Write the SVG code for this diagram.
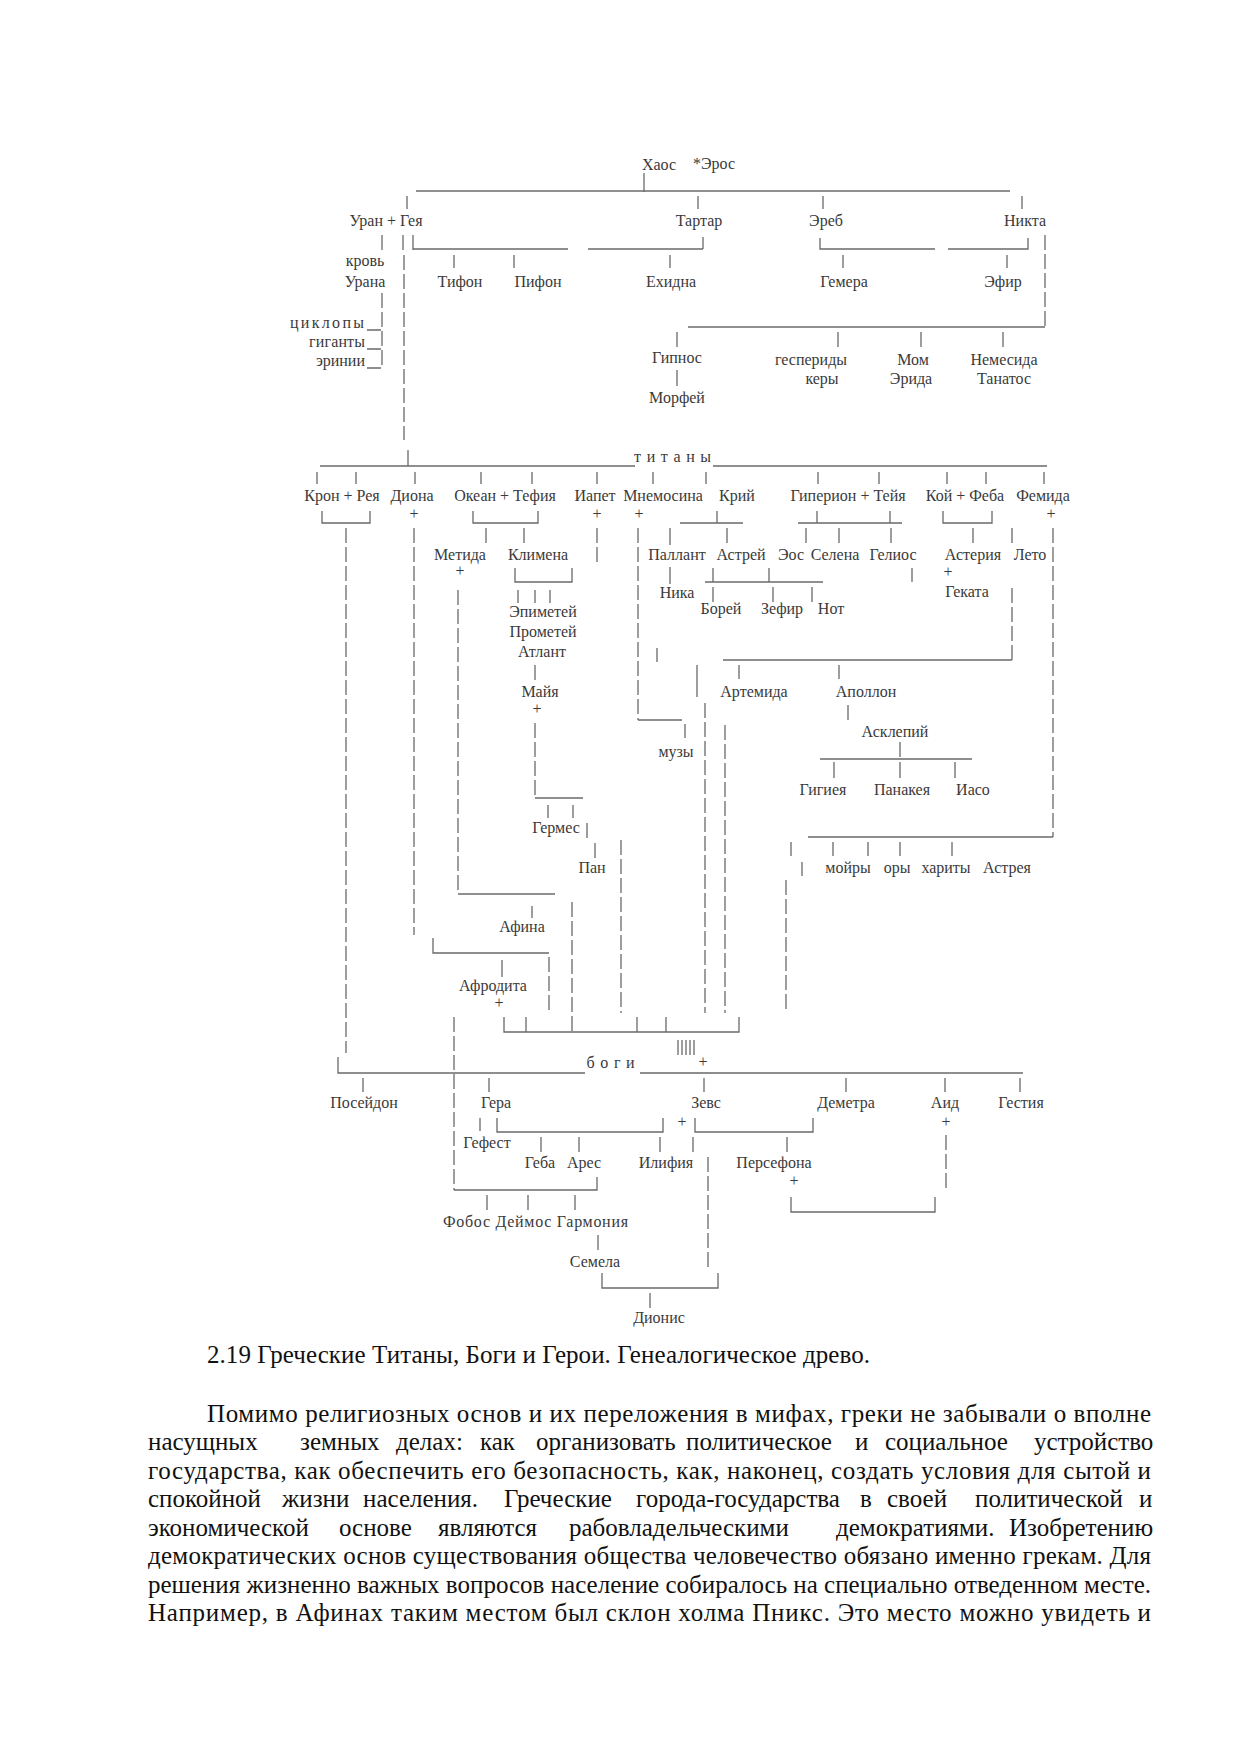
<svg xmlns="http://www.w3.org/2000/svg" width="1239" height="1754" viewBox="0 0 1239 1754">
<style>
.t{font-family:"Liberation Serif","Times New Roman",serif;font-size:16px;fill:#3a3a3a;text-anchor:middle}
.s{letter-spacing:0.8px}
.l path{stroke:#6a6a6a;stroke-width:1.3;fill:none}
.l path.d{stroke-dasharray:15 4}
.p{font-family:"Liberation Serif","Times New Roman",serif;font-size:25px;fill:#111}
</style>
<rect width="1239" height="1754" fill="#fff"/>
<g id="connectors" class="l">
<path d="M644 173V192"/>
<path d="M416 191H1010"/>
<path d="M407 196V209 M698 196V209 M823 196V209 M1022 196V209"/>
<path d="M382 235V250"/>
<path class="d" d="M382 293V368"/>
<path d="M403 235V250 M413 235V250"/>
<path d="M413 249H568 M588 249H703 M703 237V249"/>
<path d="M454 255V268 M514 255V268 M670 255V268"/>
<path d="M820 238V249H935 M948 249H1028V238"/>
<path d="M843 255V268 M1007 255V268"/>
<path class="d" d="M404 255V440"/>
<path d="M408 450V466"/>
<path class="d" d="M1045 235V327"/>
<path d="M688 327H1045"/>
<path d="M677 332V347 M838 332V347 M921 332V347 M1003 332V347"/>
<path d="M677 370V386"/>
<path d="M367 330H381 M367 349H381 M367 368H381"/>
<path d="M320 466H635 M713 466H1047"/>
<path d="M317 472V484 M356 472V484 M415 472V484 M481 472V484 M532 472V484 M597 472V484 M653 472V484 M706 472V484 M818 472V484 M879 472V484 M947 472V484 M986 472V484 M1044 472V484"/>
<path d="M322 511V523H370V511"/>
<path class="d" d="M346 528V1053"/>
<path class="d" d="M414 528V935"/>
<path d="M473 511V523H538V511"/>
<path d="M486 528V543 M524 528V543"/>
<path class="d" d="M597 528V566"/>
<path class="d" d="M638 528V720"/>
<path d="M638 720H682"/>
<path d="M685 724V738"/>
<path d="M670 528V545 M670 567V584"/>
<path d="M680 523H743 M717 511V523 M727 528V543"/>
<path d="M798 523H902 M817 511V523 M890 511V523"/>
<path d="M806 528V543 M839 528V543 M891 528V543"/>
<path d="M943 511V523H992V511"/>
<path d="M973 528V543 M1012 528V543"/>
<path class="d" d="M1053 528V837"/>
<path d="M1053 837H808"/>
<path d="M713 568V582 M769 568V582 M912 568V582"/>
<path d="M705 582H823"/>
<path d="M713 587V602 M773 587V602 M812 587V602"/>
<path class="d" d="M1012 588V660"/>
<path d="M1012 660H723"/>
<path d="M739 665V679 M839 665V679"/>
<path d="M515 568V582H572V568"/>
<path d="M518 590V603 M535 590V603 M550 590V603"/>
<path d="M535 665V680"/>
<path class="d" d="M458 590V894"/>
<path d="M458 894H555"/>
<path d="M532 906V918"/>
<path class="d" d="M535 723V798"/>
<path d="M535 798H583"/>
<path d="M548 805V818 M573 805V818"/>
<path d="M587 823V838 M595 843V858"/>
<path class="d" d="M621 840V1013"/>
<path d="M657 648V662 M697 665V697"/>
<path class="d" d="M705 703V1013 M725 725V1013"/>
<path d="M848 705V720 M900 742V757 M820 759H972 M834 762V778 M900 762V778 M955 762V778"/>
<path d="M833 842V856 M868 842V856 M900 842V856 M952 842V856"/>
<path d="M791 842V856 M802 862V876"/>
<path class="d" d="M786 880V1013"/>
<path d="M433 938V953H549 M502 960V977"/>
<path class="d" d="M549 957V1013"/>
<path class="d" d="M572 902V1032"/>
<path d="M504 1017V1032H739V1017 M526 1017V1032 M637 1017V1032 M666 1017V1032"/>
<path d="M678 1040V1055 M682 1040V1055 M686 1040V1055 M690 1040V1055 M694 1040V1055"/>
<path d="M338 1057V1073H585 M640 1073H1023"/>
<path d="M363 1078V1092 M489 1078V1092 M704 1078V1092 M846 1078V1092 M945 1078V1092 M1020 1078V1092"/>
<path class="d" d="M454 1017V1190"/>
<path d="M454 1190H597V1177"/>
<path d="M480 1118V1131"/>
<path d="M497 1118V1132H663V1118"/>
<path d="M695 1118V1132H813V1118"/>
<path d="M541 1137V1152 M579 1137V1152 M660 1137V1152 M693 1137V1152 M787 1137V1152"/>
<path class="d" d="M946 1135V1190"/>
<path d="M791 1197V1212H935V1197"/>
<path class="d" d="M708 1157V1270"/>
<path d="M602 1273V1288H718V1273"/>
<path d="M487 1195V1210 M528 1195V1210 M575 1195V1210"/>
<path d="M598 1235V1250"/>
<path d="M650 1293V1308"/>
</g>
<g id="n-chaos"><text class="t" x="659" y="170">Хаос</text></g>
<g id="n-eros"><text class="t" x="714" y="169">*Эрос</text></g>
<g id="n-uran-gea"><text class="t" x="386" y="226">Уран + Гея</text></g>
<g id="n-tartar"><text class="t" x="699" y="226">Тартар</text></g>
<g id="n-ereb"><text class="t" x="826" y="226">Эреб</text></g>
<g id="n-nikta"><text class="t" x="1025" y="226">Никта</text></g>
<g id="n-krov"><text class="t" x="365" y="266">кровь</text><text class="t" x="365" y="287">Урана</text></g>
<g id="n-tifon"><text class="t" x="460" y="287">Тифон</text></g>
<g id="n-pifon"><text class="t" x="538" y="287">Пифон</text></g>
<g id="n-ehidna"><text class="t" x="671" y="287">Ехидна</text></g>
<g id="n-gemera"><text class="t" x="844" y="287">Гемера</text></g>
<g id="n-efir"><text class="t" x="1003" y="287">Эфир</text></g>
<g id="n-ciklopy"><text class="t" x="290" y="328" style="text-anchor:start" textLength="74" lengthAdjust="spacing">циклопы</text></g>
<g id="n-giganty"><text class="t" x="309" y="347" style="text-anchor:start" textLength="56" lengthAdjust="spacing">гиганты</text></g>
<g id="n-erinii"><text class="t" x="365" y="366" style="text-anchor:end">эринии</text></g>
<g id="n-gipnos"><text class="t" x="677" y="363">Гипнос</text></g>
<g id="n-morfei"><text class="t" x="677" y="403">Морфей</text></g>
<g id="n-gesperidy"><text class="t" x="811" y="365">геспериды</text><text class="t" x="822" y="384">керы</text></g>
<g id="n-mom"><text class="t" x="913" y="365">Мом</text><text class="t" x="911" y="384">Эрида</text></g>
<g id="n-nemesida"><text class="t" x="1004" y="365">Немесида</text><text class="t" x="1004" y="384">Танатос</text></g>
<g id="n-titany"><text class="t s" x="673" y="462">т и т а н ы</text></g>
<g id="n-kron-reya"><text class="t" x="342" y="501">Крон + Рея</text></g>
<g id="n-diona"><text class="t" x="412" y="501">Диона</text><text class="t" x="414" y="519">+</text></g>
<g id="n-okean-tefiya"><text class="t" x="505" y="501">Океан + Тефия</text></g>
<g id="n-iapet"><text class="t" x="595" y="501">Иапет</text><text class="t" x="597" y="519">+</text></g>
<g id="n-mnemosina"><text class="t" x="663" y="501">Мнемосина</text><text class="t" x="639" y="519">+</text></g>
<g id="n-kriy"><text class="t" x="737" y="501">Крий</text></g>
<g id="n-giperion-teiya"><text class="t" x="848" y="501">Гиперион + Тейя</text></g>
<g id="n-koy-feba"><text class="t" x="965" y="501">Кой + Феба</text></g>
<g id="n-femida"><text class="t" x="1043" y="501">Фемида</text><text class="t" x="1051" y="519">+</text></g>
<g id="n-metida"><text class="t" x="460" y="560">Метида</text><text class="t" x="460" y="576">+</text></g>
<g id="n-klimena"><text class="t" x="538" y="560">Климена</text></g>
<g id="n-pallant"><text class="t" x="677" y="560">Паллант</text></g>
<g id="n-astrey"><text class="t" x="741" y="560">Астрей</text></g>
<g id="n-eos"><text class="t" x="791" y="560">Эос</text></g>
<g id="n-selena"><text class="t" x="835" y="560">Селена</text></g>
<g id="n-gelios"><text class="t" x="893" y="560">Гелиос</text></g>
<g id="n-asteriya"><text class="t" x="973" y="560">Астерия</text><text class="t" x="948" y="577">+</text><text class="t" x="967" y="597">Геката</text></g>
<g id="n-leto"><text class="t" x="1030" y="560">Лето</text></g>
<g id="n-nika"><text class="t" x="677" y="598">Ника</text></g>
<g id="n-borey"><text class="t" x="721" y="614">Борей</text></g>
<g id="n-zefir"><text class="t" x="782" y="614">Зефир</text></g>
<g id="n-not"><text class="t" x="831" y="614">Нот</text></g>
<g id="n-epimetey"><text class="t" x="543" y="617">Эпиметей</text><text class="t" x="543" y="637">Прометей</text><text class="t" x="542" y="657">Атлант</text></g>
<g id="n-maiya"><text class="t" x="540" y="697">Майя</text><text class="t" x="537" y="714">+</text></g>
<g id="n-artemida"><text class="t" x="754" y="697">Артемида</text></g>
<g id="n-apollon"><text class="t" x="866" y="697">Аполлон</text></g>
<g id="n-muzy"><text class="t" x="676" y="757">музы</text></g>
<g id="n-asklepiy"><text class="t" x="895" y="737">Асклепий</text></g>
<g id="n-gigieya"><text class="t" x="823" y="795">Гигиея</text></g>
<g id="n-panakeya"><text class="t" x="902" y="795">Панакея</text></g>
<g id="n-iaso"><text class="t" x="973" y="795">Иасо</text></g>
<g id="n-germes"><text class="t" x="556" y="833">Гермес</text></g>
<g id="n-pan"><text class="t" x="592" y="873">Пан</text></g>
<g id="n-moiry"><text class="t" x="848" y="873">мойры</text></g>
<g id="n-ory"><text class="t" x="897" y="873">оры</text></g>
<g id="n-harity"><text class="t" x="946" y="873">хариты</text></g>
<g id="n-astreya"><text class="t" x="1007" y="873">Астрея</text></g>
<g id="n-afina"><text class="t" x="522" y="932">Афина</text></g>
<g id="n-afrodita"><text class="t" x="493" y="991">Афродита</text><text class="t" x="499" y="1008">+</text></g>
<g id="n-bogi"><text class="t s" x="611" y="1068">б о г и</text><text class="t" x="703" y="1067">+</text></g>
<g id="n-poseidon"><text class="t" x="364" y="1108">Посейдон</text></g>
<g id="n-gera"><text class="t" x="496" y="1108">Гера</text></g>
<g id="n-zevs"><text class="t" x="706" y="1108">Зевс</text><text class="t" x="682" y="1127">+</text></g>
<g id="n-demetra"><text class="t" x="846" y="1108">Деметра</text></g>
<g id="n-aid"><text class="t" x="945" y="1108">Аид</text><text class="t" x="946" y="1127">+</text></g>
<g id="n-gestiya"><text class="t" x="1021" y="1108">Гестия</text></g>
<g id="n-gefest"><text class="t" x="487" y="1148">Гефест</text></g>
<g id="n-geba"><text class="t" x="540" y="1168">Геба</text></g>
<g id="n-ares"><text class="t" x="584" y="1168">Арес</text></g>
<g id="n-ilifiya"><text class="t" x="666" y="1168">Илифия</text></g>
<g id="n-persefona"><text class="t" x="774" y="1168">Персефона</text><text class="t" x="794" y="1186">+</text></g>
<g id="n-fobos"><text class="t" x="443" y="1227" style="text-anchor:start" textLength="185" lengthAdjust="spacing">Фобос Деймос Гармония</text></g>
<g id="n-semela"><text class="t" x="595" y="1267">Семела</text></g>
<g id="n-dionis"><text class="t" x="659" y="1323">Дионис</text></g>
<g id="caption"><text class="p" x="207" y="1363" textLength="663" lengthAdjust="spacing">2.19 Греческие Титаны, Боги и Герои. Генеалогическое древо.</text></g>
<g id="paragraph">
<text class="p" x="207" y="1422" textLength="944" lengthAdjust="spacing">Помимо религиозных основ и их переложения в мифах, греки не забывали о вполне</text>
<text class="p" y="1450"><tspan x="148">насущных</tspan><tspan x="300">земных</tspan><tspan x="396">делах:</tspan><tspan x="480">как</tspan><tspan x="536">организовать</tspan><tspan x="686">политическое</tspan><tspan x="855">и</tspan><tspan x="885">социальное</tspan><tspan x="1034">устройство</tspan></text>
<text class="p" x="148" y="1479" textLength="1003" lengthAdjust="spacing">государства, как обеспечить его безопасность, как, наконец, создать условия для сытой и</text>
<text class="p" y="1507"><tspan x="148">спокойной</tspan><tspan x="282">жизни</tspan><tspan x="363">населения.</tspan><tspan x="504">Греческие</tspan><tspan x="636">города-государства</tspan><tspan x="860">в</tspan><tspan x="887">своей</tspan><tspan x="975">политической</tspan><tspan x="1139">и</tspan></text>
<text class="p" y="1536"><tspan x="148">экономической</tspan><tspan x="339">основе</tspan><tspan x="438">являются</tspan><tspan x="569">рабовладельческими</tspan><tspan x="836">демократиями.</tspan><tspan x="1009">Изобретению</tspan></text>
<text class="p" x="148" y="1564" textLength="1003" lengthAdjust="spacing">демократических основ существования общества человечество обязано именно грекам. Для</text>
<text class="p" x="148" y="1593" textLength="1003" lengthAdjust="spacing">решения жизненно важных вопросов население собиралось на специально отведенном месте.</text>
<text class="p" x="148" y="1621" textLength="1003" lengthAdjust="spacing">Например, в Афинах таким местом был склон холма Пникс. Это место можно увидеть и</text>
</g>
</svg>
